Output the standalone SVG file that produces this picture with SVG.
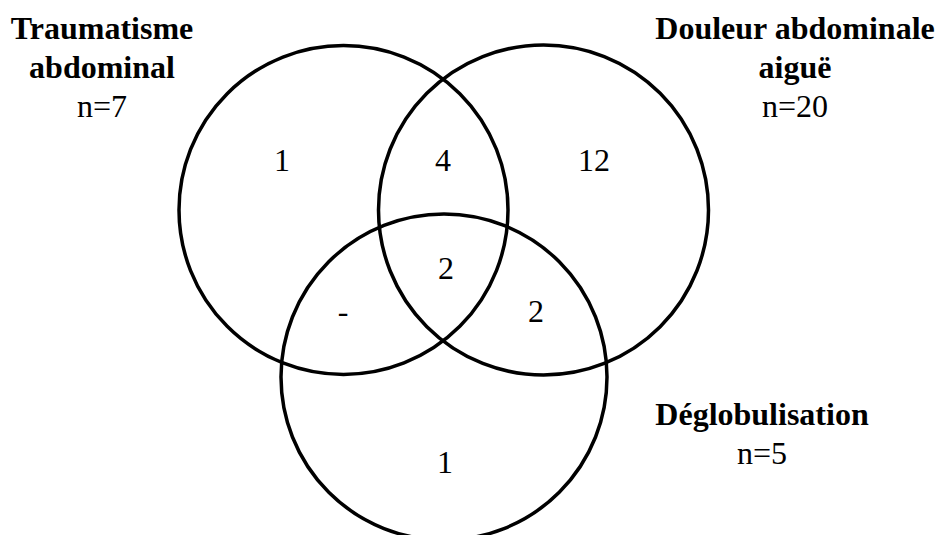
<svg xmlns="http://www.w3.org/2000/svg" width="939" height="535" viewBox="0 0 939 535">
<style>
text{font-size:32px;fill:#000;text-anchor:middle}
.b{font-weight:bold}
.c{fill:none;stroke:#000;stroke-width:3.5}
</style>
<rect width="939" height="535" fill="#fff"/>
<g font-family="'Liberation Serif', 'Times New Roman', Times, 'DejaVu Serif', serif">
<g id="set-traumatisme">
<circle class="c" cx="343.5" cy="210" r="164.5"/>
<text class="b" x="102" y="39">Traumatisme</text>
<text class="b" x="102" y="78">abdominal</text>
<text x="102" y="117">n=7</text>
</g>
<g id="set-douleur">
<circle class="c" cx="543.5" cy="210" r="165"/>
<text class="b" x="795" y="39">Douleur abdominale</text>
<text class="b" x="795" y="78">aiguë</text>
<text x="795" y="117">n=20</text>
</g>
<g id="set-deglobulisation">
<circle class="c" cx="444" cy="377" r="163"/>
<text class="b" x="762" y="425">Déglobulisation</text>
<text x="762" y="464">n=5</text>
</g>
<g id="counts">
<text x="282" y="171">1</text>
<text x="443" y="171">4</text>
<text x="594" y="171">12</text>
<text x="446" y="279">2</text>
<text x="343" y="322">-</text>
<text x="536" y="322">2</text>
<text x="445" y="473">1</text>
</g>
</g>
</svg>
